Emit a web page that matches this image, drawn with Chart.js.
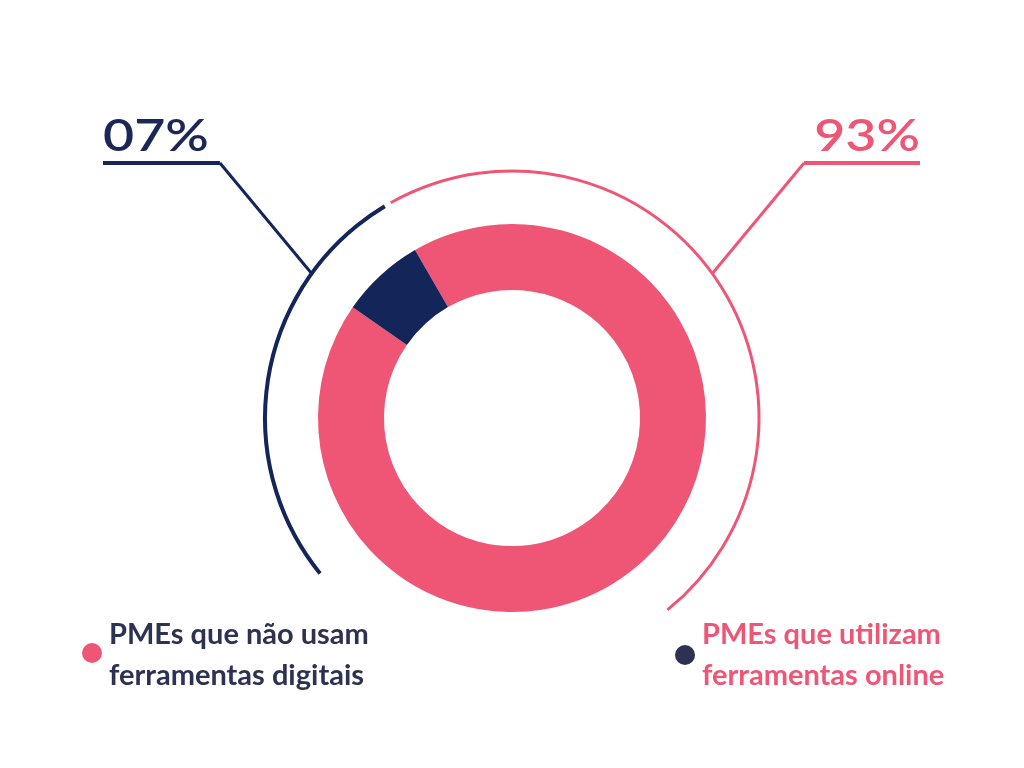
<!DOCTYPE html>
<html>
<head>
<meta charset="utf-8">
<script src="https://cdn.jsdelivr.net/npm/chart.js@4/dist/chart.umd.min.js"></script>
<style>
  html, body { margin: 0; padding: 0; background: #fff; }
  #wrap { position: relative; width: 1024px; height: 768px; }
  .leg { position: absolute; font-family: Lato, sans-serif; font-weight: bold; font-size: 29px; line-height: 41px; }
  .leg .dot { position: absolute; width: 20px; height: 20px; border-radius: 50%; }
</style>
</head>
<body>
<div id="wrap">
  <canvas id="pmeChart" width="1024" height="768"></canvas>
  <div class="leg" id="legLeft" style="left:109px; top:612px; color:#2d3152;">
    <span class="dot" style="left:-27px; top:31px; background:#ef5675;"></span>
    <div id="legLeftText"></div>
  </div>
  <div class="leg" id="legRight" style="left:702px; top:612px; color:#ef5675;">
    <span class="dot" style="left:-27px; top:33px; background:#2d3152;"></span>
    <div id="legRightText"></div>
  </div>
</div>
<script>
let labels = ['PMEs que utilizam ferramentas online', 'PMEs que não usam ferramentas digitais'];
let values = [93, 7];
let colors = ['#ef5675', '#14255a'];
let legendLines = {
    left: ['PMEs que não usam', 'ferramentas digitais'],
    right: ['PMEs que utilizam', 'ferramentas online']
};

document.getElementById('legLeftText').innerHTML = legendLines.left.join('<br>');
document.getElementById('legRightText').innerHTML = legendLines.right.join('<br>');

// arcs outside the ring + leader lines + percentage labels
let deco = {
    id: 'deco',
    afterDatasetsDraw(chart) {
        let arcs = chart.getDatasetMeta(0).data;
        let pink = arcs[0], navy = arcs[1];
        let cx = pink.x, cy = pink.y;
        let R = pink.outerRadius + 53;
        let deg = Math.PI / 180;
        let c = chart.ctx;
        c.save();
        c.lineCap = 'butt';

        // navy arc, ends just before the top gap
        c.strokeStyle = '#14255a';
        c.lineWidth = 4;
        c.beginPath();
        c.arc(cx, cy, R, navy.endAngle - 99 * deg, navy.endAngle - 1 * deg);
        c.stroke();

        // pink arc
        c.strokeStyle = '#ef5675';
        c.lineWidth = 3;
        c.beginPath();
        c.arc(cx, cy, R, pink.startAngle + 0.6 * deg, pink.startAngle + 171 * deg);
        c.stroke();

        // leader lines
        let lineY = 163;
        let a1 = navy.startAngle + 1 * deg;
        let p1 = { x: cx + Math.cos(a1) * R, y: cy + Math.sin(a1) * R };
        let e1 = { x: p1.x - (p1.y - lineY) * 0.83, y: lineY };
        c.strokeStyle = '#14255a';
        c.lineWidth = 3;
        c.beginPath();
        c.moveTo(p1.x, p1.y);
        c.lineTo(e1.x, e1.y);
        c.stroke();
        c.beginPath();
        c.lineWidth = 4;
        c.moveTo(e1.x, e1.y);
        c.lineTo(103, lineY);
        c.stroke();

        let a2 = -Math.PI - a1;
        let p2 = { x: cx + Math.cos(a2) * R, y: cy + Math.sin(a2) * R };
        let e2 = { x: p2.x + (p2.y - lineY) * 0.83, y: lineY };
        c.strokeStyle = '#ef5675';
        c.lineWidth = 3;
        c.beginPath();
        c.moveTo(p2.x, p2.y);
        c.lineTo(e2.x, e2.y);
        c.stroke();
        c.beginPath();
        c.lineWidth = 4;
        c.moveTo(e2.x, e2.y);
        c.lineTo(920, lineY);
        c.stroke();

        // percentages, stretched a little to look like the wide original face
        c.font = '600 44px Lato, sans-serif';
        c.textBaseline = 'alphabetic';
        let sx = 1.22;
        c.save();
        c.scale(sx, 1);
        c.fillStyle = '#1b2754';
        c.textAlign = 'left';
        c.fillText(String(values[1]).padStart(2, '0') + '%', 103 / sx, 151);
        c.fillStyle = '#ef5675';
        c.textAlign = 'right';
        c.fillText(values[0] + '%', 920 / sx, 151);
        c.restore();
        c.restore();
    }
};

let ctx = document.getElementById('pmeChart').getContext('2d');
let pmeChart = new Chart(ctx, {
    type: 'doughnut',
    data: {
        labels: labels,
        datasets: [{
            data: values,
            backgroundColor: colors,
            borderWidth: 0
        }]
    },
    options: {
        responsive: false,
        animation: false,
        rotation: -30,
        cutout: '66%',
        layout: {
            padding: { top: 224, bottom: 156, left: 318, right: 318 }
        },
        plugins: {
            legend: { display: false },
            tooltip: { enabled: false }
        }
    },
    plugins: [deco]
});
</script>
</body>
</html>
